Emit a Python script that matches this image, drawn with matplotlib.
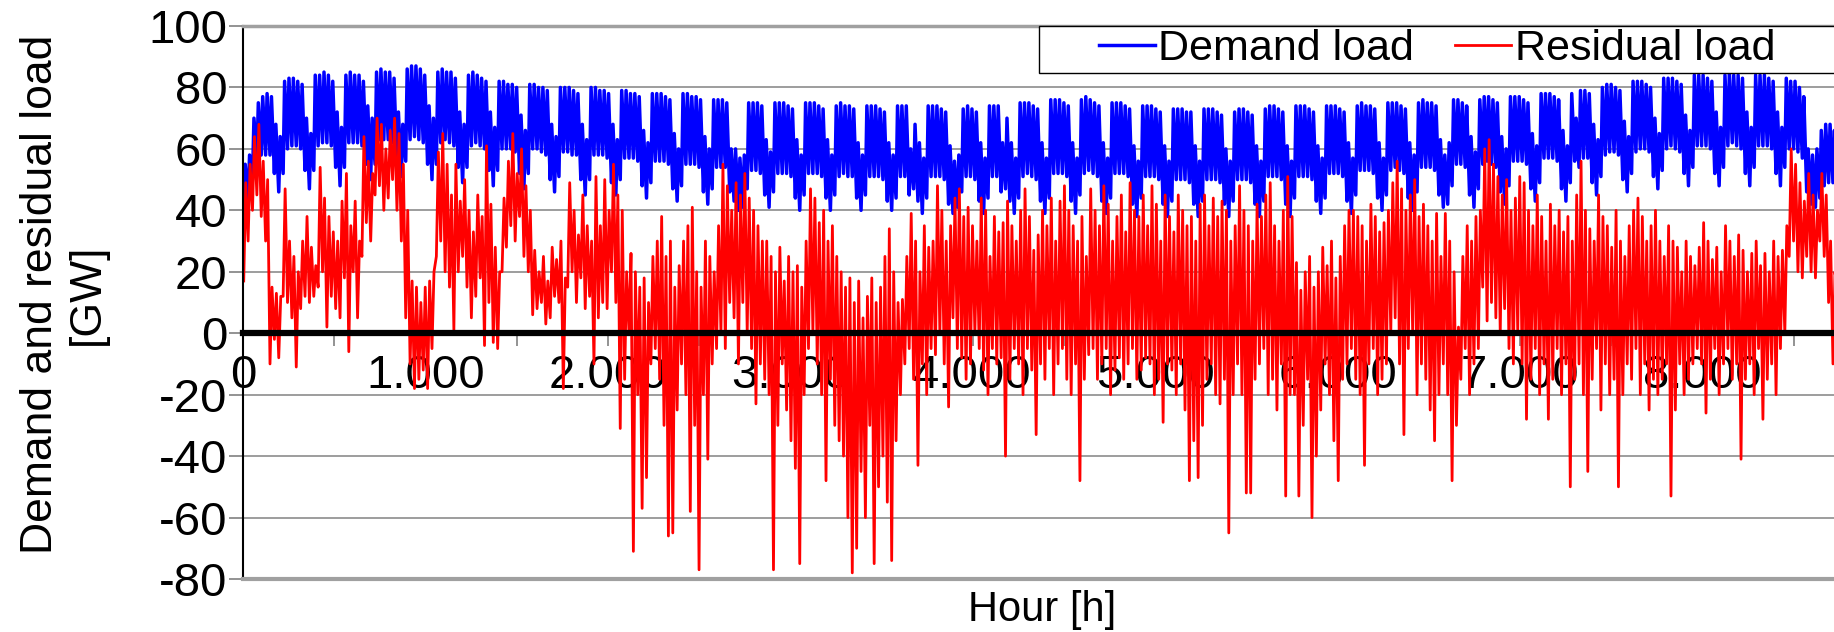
import numpy as np
import matplotlib
matplotlib.use("Agg")
import matplotlib.pyplot as plt
from matplotlib.patches import Rectangle
from matplotlib.ticker import MultipleLocator, FuncFormatter

plt.rcParams['font.family'] = ['Liberation Sans', 'DejaVu Sans']
plt.rcParams['axes.unicode_minus'] = False

# Demand load [GW], daily peak and night low.
# One row per week, Sat..Fri (year starts on a Saturday), last entry = Dec 31
demand_peak = [
    55, 58, 70, 75, 77, 78, 77,
    68, 64, 82, 83, 83, 82, 81,
    70, 65, 84, 84, 85, 84, 82,
    72, 67, 84, 85, 84, 84, 82,
    74, 70, 85, 86, 85, 85, 83,
    72, 68, 86, 87, 87, 86, 84,
    74, 70, 85, 86, 85, 85, 83,
    72, 68, 84, 85, 84, 83, 82,
    72, 67, 82, 82, 81, 81, 80,
    71, 66, 81, 81, 80, 80, 79,
    68, 64, 80, 80, 80, 79, 78,
    68, 63, 80, 80, 79, 79, 78,
    68, 63, 79, 79, 78, 78, 77,
    66, 62, 78, 78, 78, 77, 76,
    65, 60, 78, 78, 77, 77, 76,
    64, 60, 76, 76, 76, 75, 60,
    60, 57, 58, 75, 75, 75, 74,
    63, 59, 75, 75, 75, 74, 73,
    63, 58, 75, 75, 75, 74, 73,
    63, 58, 74, 75, 74, 74, 73,
    62, 58, 74, 74, 74, 73, 72,
    62, 58, 74, 74, 74, 60, 68,
    62, 57, 74, 74, 74, 73, 72,
    61, 56, 58, 73, 74, 73, 72,
    62, 57, 74, 74, 74, 62, 70,
    62, 57, 75, 75, 75, 74, 73,
    62, 57, 76, 76, 76, 75, 74,
    62, 57, 76, 77, 76, 75, 74,
    62, 57, 75, 75, 75, 74, 73,
    61, 56, 74, 74, 74, 73, 72,
    61, 56, 73, 73, 73, 72, 72,
    61, 56, 73, 73, 73, 72, 71,
    60, 56, 72, 73, 73, 72, 71,
    61, 56, 73, 74, 74, 73, 72,
    61, 56, 74, 74, 74, 73, 72,
    61, 57, 74, 74, 74, 73, 72,
    62, 57, 74, 75, 74, 74, 73,
    62, 57, 75, 75, 75, 74, 73,
    62, 58, 75, 76, 75, 75, 74,
    63, 58, 62, 76, 76, 75, 74,
    64, 59, 76, 77, 77, 76, 75,
    64, 60, 77, 77, 77, 76, 75,
    65, 61, 78, 78, 78, 77, 76,
    66, 61, 78, 70, 79, 79, 78,
    68, 63, 80, 81, 81, 80, 79,
    69, 64, 82, 82, 82, 81, 80,
    70, 65, 83, 83, 83, 82, 81,
    71, 66, 84, 84, 84, 83, 82,
    72, 67, 84, 85, 84, 84, 83,
    72, 67, 84, 84, 84, 83, 82,
    72, 67, 83, 82, 82, 80, 77,
    60, 58, 60, 66, 68, 68, 66,
    60,
]
demand_low = [
    42, 44, 50, 57, 58, 58, 58,
    52, 46, 52, 60, 61, 61, 60,
    53, 47, 53, 61, 62, 62, 61,
    54, 48, 54, 62, 62, 62, 61,
    55, 50, 55, 63, 63, 63, 62,
    55, 51, 56, 63, 64, 63, 62,
    55, 50, 55, 62, 63, 62, 61,
    54, 49, 54, 61, 62, 61, 60,
    53, 48, 53, 60, 60, 60, 59,
    52, 47, 52, 60, 60, 59, 58,
    50, 46, 51, 59, 59, 58, 58,
    50, 45, 50, 58, 58, 58, 57,
    49, 45, 50, 57, 57, 57, 56,
    48, 44, 49, 56, 56, 56, 55,
    47, 43, 48, 55, 55, 55, 54,
    46, 42, 47, 54, 54, 54, 46,
    43, 40, 41, 47, 53, 53, 52,
    45, 41, 46, 52, 52, 52, 51,
    44, 40, 45, 52, 52, 52, 51,
    44, 40, 45, 51, 52, 51, 51,
    44, 40, 45, 51, 51, 51, 50,
    43, 40, 44, 51, 51, 45, 47,
    43, 39, 44, 51, 51, 51, 50,
    42, 39, 41, 46, 51, 51, 50,
    43, 39, 44, 51, 51, 46, 47,
    43, 39, 44, 51, 52, 51, 50,
    43, 39, 44, 52, 52, 52, 51,
    43, 39, 45, 52, 53, 52, 51,
    43, 39, 44, 52, 52, 52, 51,
    42, 38, 44, 51, 51, 51, 50,
    42, 38, 43, 50, 50, 50, 49,
    42, 38, 43, 50, 50, 50, 49,
    42, 38, 43, 50, 50, 50, 49,
    42, 38, 43, 51, 51, 51, 50,
    42, 38, 44, 51, 51, 51, 50,
    43, 39, 44, 52, 52, 52, 51,
    43, 39, 45, 53, 53, 53, 52,
    44, 40, 45, 53, 54, 53, 52,
    44, 40, 46, 54, 54, 54, 53,
    45, 41, 42, 48, 55, 55, 54,
    45, 41, 47, 55, 56, 55, 54,
    46, 42, 48, 56, 56, 56, 55,
    47, 43, 49, 57, 57, 57, 56,
    47, 43, 49, 56, 54, 57, 57,
    49, 45, 51, 58, 59, 59, 58,
    50, 46, 52, 59, 60, 60, 59,
    51, 47, 53, 60, 61, 60, 59,
    52, 48, 54, 61, 61, 61, 60,
    52, 48, 54, 61, 62, 61, 60,
    52, 48, 54, 61, 61, 61, 60,
    52, 48, 54, 60, 60, 59, 57,
    46, 42, 41, 44, 48, 49, 49,
    46,
]

# Residual load [GW], (daily high, daily low) for each day of the year
residual_daily = [
    (49, 17), (55, 30), (64, 40), (68, 45), (56, 38), (50, 30), (15, -10),
    (13, -2), (12, -8), (47, 12), (30, 10), (25, 5), (20, -11), (30, 8),
    (38, 12), (28, 10), (22, 12), (54, 15), (44, 20), (38, 2), (33, 12),
    (30, 8), (43, 5), (52, 18), (35, -6), (43, 20), (30, 5), (64, 25),
    (56, 36), (52, 30), (70, 45), (68, 48), (60, 40), (66, 44), (70, 50),
    (65, 40), (55, 30), (40, 5), (17, -10), (15, -18), (10, -15), (15, -12),
    (17, -18), (20, -5), (59, 25), (65, 30), (55, 20), (45, 15), (55, 1),
    (43, 20), (50, 25), (40, 15), (33, 5), (45, 12), (38, 18), (61, -4),
    (42, 10), (28, -3), (20, -5), (44, 20), (56, 28), (65, 35), (52, 30),
    (60, 38), (48, 25), (40, 20), (27, 6), (20, 8), (25, 10), (17, 3),
    (28, 5), (24, 12), (30, 10), (18, -18), (49, 15), (40, 20), (32, 10),
    (45, 18), (35, 8), (30, 12), (51, -10), (35, 5), (50, 10), (40, 8),
    (55, 20), (45, 10), (40, -31), (20, -15), (26, 0), (20, -71), (15, -20),
    (18, -57), (10, -47), (25, -10), (30, -5), (38, -15), (25, -30), (30, -66),
    (15, -65), (22, -25), (30, -10), (35, -20), (41, -58), (20, -30), (15, -77),
    (30, -20), (25, -41), (20, -10), (35, -5), (55, 0), (48, -5), (40, 10),
    (49, 5), (45, -10), (52, 10), (44, 0), (40, -5), (35, -23), (30, -10),
    (30, -15), (25, -20), (20, -77), (28, -30), (17, -10), (25, -25), (20, -35),
    (22, -44), (15, -75), (30, -20), (47, -5), (44, 0), (36, -10), (40, -20),
    (30, -48), (35, -15), (25, -30), (20, -35), (15, -40), (18, -60), (10, -78),
    (17, -70), (5, -45), (12, -60), (18, -30), (10, -75), (15, -50), (25, -40),
    (34, -55), (20, -74), (10, -35), (11, -20), (25, -10), (39, -5), (30, -15),
    (20, -43), (35, -10), (28, -20), (30, -5), (48, -7), (40, 0), (30, -10),
    (35, -24), (44, 5), (47, -5), (38, -8), (41, -15), (35, -10), (30, 0),
    (44, -5), (40, -12), (25, -20), (38, -5), (33, -10), (36, -8), (43, -40),
    (35, -15), (30, -5), (40, -10), (47, -20), (38, -5), (27, -12), (32, -33),
    (40, -10), (35, -15), (44, -5), (30, -20), (43, -10), (48, -5), (40, -15),
    (35, -20), (30, -10), (38, -48), (25, -15), (47, -7), (40, -5), (35, -15),
    (48, -10), (42, -5), (30, -20), (38, -12), (45, -8), (33, -15), (49, -10),
    (40, -5), (38, -15), (45, -12), (35, -8), (48, -10), (42, -20), (30, -15),
    (45, -29), (38, -10), (33, -12), (45, -20), (40, -10), (35, -25), (38, -48),
    (30, -35), (42, -47), (45, -30), (35, -15), (44, -10), (38, -20), (43, -23),
    (40, -15), (30, -65), (35, -20), (48, -10), (40, -20), (35, -52), (30, -52),
    (42, -15), (38, -10), (45, -5), (49, -20), (35, -15), (30, -25), (40, -10),
    (51, -53), (38, -20), (23, -20), (14, -53), (20, -30), (25, -15), (15, -60),
    (20, -40), (28, -25), (22, -10), (30, -20), (18, -35), (25, -48), (35, -15),
    (40, -10), (40, -5), (38, -15), (35, -20), (30, -43), (42, -10), (38, -5),
    (33, -20), (36, -15), (40, -10), (49, 0), (56, 5), (47, -10), (40, -33),
    (45, -5), (50, 0), (38, -20), (42, -10), (35, -15), (30, -25), (39, -35),
    (25, -20), (39, -10), (30, -20), (20, -48), (2, -30), (25, -15), (35, -5),
    (30, -20), (38, -10), (40, -5), (60, 15), (63, 4), (55, 10), (51, 5),
    (45, 0), (50, 8), (40, -5), (44, -10), (51, 0), (49, -10), (40, -28),
    (35, -15), (45, -5), (38, -20), (30, -10), (42, -28), (35, -15), (40, -5),
    (33, -20), (38, -10), (30, -50), (45, -15), (56, -10), (40, -20), (34, -45),
    (30, -15), (45, -5), (38, -25), (35, -10), (28, -20), (40, -15), (30, -50),
    (25, -20), (35, -10), (40, -15), (44, -5), (38, -20), (30, -10), (35, -25),
    (40, -15), (30, -20), (25, -15), (35, -10), (30, -53), (28, -25), (20, -10),
    (30, -20), (25, -15), (22, -10), (28, -5), (36, -10), (30, -26), (24, -15),
    (28, -5), (20, -20), (35, -10), (30, -5), (25, -15), (32, -10), (27, -41),
    (20, -15), (26, -10), (30, -20), (22, -5), (26, -28), (20, -15), (30, -10),
    (25, -20), (27, -5), (35, 0), (60, 25), (55, 30), (49, 20), (43, 18),
    (52, 25), (45, 20), (40, 18), (52, 30), (45, 25), (30, 10), (20, -10),
    (10, -32),
]

# hour of the day at which the low / high of each day is placed
day_start = np.arange(len(demand_peak)) * 24
x_dem = np.column_stack([day_start + 4, day_start + 12]).ravel()
y_dem = np.column_stack([demand_low, demand_peak]).ravel()

res = np.array(residual_daily)
res_start = np.arange(len(res)) * 24
x_res = np.column_stack([res_start + 4, res_start + 15]).ravel()
y_res = np.column_stack([res[:, 1], res[:, 0]]).ravel()

W, H = 1834, 632
fig = plt.figure(figsize=(W / 100, H / 100), dpi=100)
left, right, top, bottom = 243, 1841, 26, 579
ax = fig.add_axes([left / W, 1 - bottom / H, (right - left) / W, (bottom - top) / H])

l_dem, = ax.plot(x_dem, y_dem, color='#0000ff', lw=2.5, zorder=2)
l_res, = ax.plot(x_res, y_res, color='#ff0000', lw=2.0, zorder=2.1)

ax.set_xlim(0, 8760)
ax.set_ylim(-80, 100)

# x axis drawn at zero
ax.spines['bottom'].set_position(('data', 0))
ax.spines['bottom'].set_linewidth(4.5)
ax.spines['bottom'].set_color('black')
ax.spines['bottom'].set_zorder(3)
ax.spines['left'].set_linewidth(1.5)
ax.spines['left'].set_color('black')
ax.spines['top'].set_color('#a0a0a0')
ax.spines['top'].set_linewidth(2.5)
ax.spines['right'].set_visible(False)
ax.axhline(-80, color='#a0a0a0', lw=3, clip_on=False, zorder=3)

ax.xaxis.set_major_locator(MultipleLocator(1000))
ax.xaxis.set_minor_locator(MultipleLocator(500))
ax.xaxis.set_major_formatter(FuncFormatter(lambda v, p: f"{int(v):,}".replace(',', '.')))
ax.yaxis.set_major_locator(MultipleLocator(20))
ax.tick_params(axis='x', which='both', direction='out', length=9, width=1.2,
               color='#808080', labelsize=34, pad=6)
ax.tick_params(axis='y', direction='out', length=10, width=1.2,
               color='#808080', labelsize=34, pad=1)
ax.yaxis.grid(True, color='#8c8c8c', lw=1.2)

# legend box
ax.add_patch(Rectangle((1039 / W, 1 - 72.5 / H), 0.5, 46.5 / H, transform=fig.transFigure,
                       facecolor='white', edgecolor='black', lw=1, clip_on=False, zorder=4.9))
ax.legend([l_dem, l_res], ['Demand load', 'Residual load'], loc='center left',
          bbox_to_anchor=(1099 / W, 1 - 49 / H), bbox_transform=fig.transFigure,
          ncol=2, frameon=False, fontsize=31, handlelength=1.3, handletextpad=0.08,
          columnspacing=0.95, borderpad=0, borderaxespad=0)

fig.text(64 / W, 1 - 294 / H, 'Demand and residual load\n[GW]', rotation=90,
         ha='center', va='center', fontsize=32, multialignment='center', linespacing=1.2)
fig.text(1042 / W, 1 - 610 / H, 'Hour [h]', ha='center', va='center', fontsize=30)

fig.savefig('out.png', dpi=100)
